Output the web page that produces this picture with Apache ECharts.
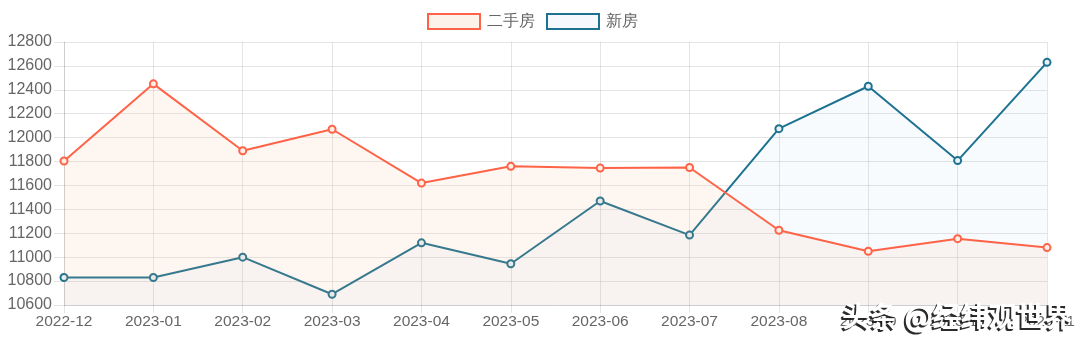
<!DOCTYPE html>
<html>
<head>
<meta charset="utf-8">
<script src="https://cdn.jsdelivr.net/npm/echarts@6/dist/echarts.min.js"></script>
<style>
  html, body { margin: 0; padding: 0; background: #fff; }
  #chart { width: 1080px; height: 342px; }
</style>
</head>
<body>
<div id="chart"></div>
<script>
// Monthly price series (元/㎡)
const months = ['2022-12', '2023-01', '2023-02', '2023-03', '2023-04', '2023-05',
                '2023-06', '2023-07', '2023-08', '2023-09', '2023-10', '2023-11'];
const secondHand = [11805, 12450, 11890, 12070, 11620, 11760, 11745, 11750, 11225, 11050, 11155, 11080];
const newHomes = [10830, 10830, 11000, 10690, 11120, 10945, 11470, 11185, 12075, 12430, 11808, 12630];
const seriesNames = ['二手房', '新房'];
const watermark = '头条 @经纬观世界';

const orange = '#ff6347';
const orangeFill = 'rgba(250,180,130,0.17)';
const blue = '#1d7290';
const blueFill = 'rgba(60,140,240,0.05)';
const gridColor = 'rgba(0,0,0,0.1)';
const labelColor = '#666';
const font = '"Liberation Sans", Arial, sans-serif';
const cjkFont = '"Noto Sans CJK SC", sans-serif';

function lineSeries(name, data, line, fill, pointFill, z) {
  return {
    name: name,
    type: 'line',
    data: data,
    symbol: 'circle',
    symbolSize: 7,
    lineStyle: { color: line, width: 2 },
    itemStyle: { color: pointFill, borderColor: line, borderWidth: 2 },
    areaStyle: { color: fill, origin: 'start' },
    emphasis: { disabled: true },
    z: z
  };
}

const chart = echarts.init(document.getElementById('chart'));
chart.setOption({
  animation: false,
  legend: {
    top: 13,
    left: 427,
    padding: 0,
    itemWidth: 52,
    itemHeight: 15,
    itemGap: 11,
    textStyle: { color: labelColor, fontSize: 15.5, fontFamily: font, padding: [0, 0, 0, 2] },
    data: [
      { name: seriesNames[0], icon: 'rect', itemStyle: { color: '#fdf2ea', borderColor: orange, borderWidth: 2 } },
      { name: seriesNames[1], icon: 'rect', itemStyle: { color: '#f5f9fe', borderColor: blue, borderWidth: 2 } }
    ]
  },
  grid: { left: 64, right: 33, top: 42, bottom: 37 },
  xAxis: {
    type: 'category',
    data: months,
    boundaryGap: false,
    axisLine: { show: true, lineStyle: { color: gridColor } },
    axisTick: { show: true, length: 8, lineStyle: { color: gridColor } },
    splitLine: { show: true, lineStyle: { color: gridColor } },
    axisLabel: { color: labelColor, fontSize: 15.5, fontFamily: font, margin: 9, interval: 0 }
  },
  yAxis: {
    type: 'value',
    min: 10600,
    max: 12800,
    interval: 200,
    axisLine: { show: true, lineStyle: { color: gridColor } },
    axisTick: { show: true, length: 10, lineStyle: { color: gridColor } },
    splitLine: { show: true, lineStyle: { color: gridColor } },
    axisLabel: { color: labelColor, fontSize: 16, fontFamily: font, margin: 12, formatter: v => String(v) }
  },
  series: [
    lineSeries(seriesNames[1], newHomes, blue, blueFill, '#e9f1f6', 3),
    lineSeries(seriesNames[0], secondHand, orange, orangeFill, '#fdeee6', 4)
  ],
  graphic: [{
    // dark offset copy giving the embossed look
    type: 'text',
    left: 840,
    top: 304,
    z: 100,
    style: {
      text: watermark,
      fill: 'rgba(20,20,20,0.9)',
      font: 'bold 28px ' + cjkFont
    }
  }, {
    type: 'text',
    left: 842,
    top: 302,
    z: 101,
    style: {
      text: watermark,
      fill: '#ffffff',
      font: 'bold 28px ' + cjkFont
    }
  }]
});
</script>
</body>
</html>
